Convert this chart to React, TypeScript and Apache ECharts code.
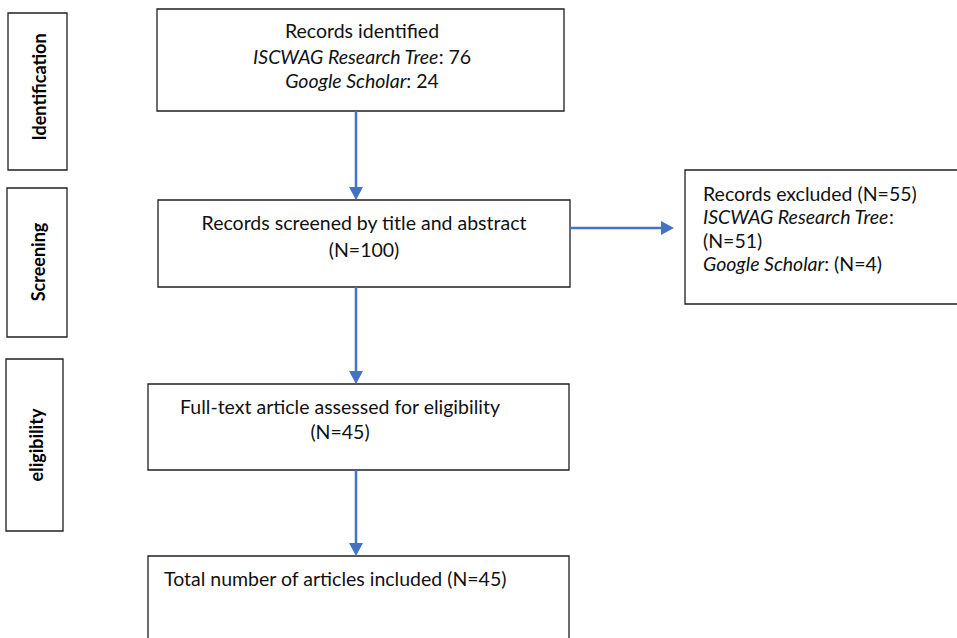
import React, { useEffect, useRef } from "react";
import * as echarts from "echarts";

// ---- data ----
const stageLabels = ["Identification", "Screening", "eligibility"];
const identifiedSources = ["ISCWAG Research Tree", "Google Scholar"];
const identifiedCounts = [76, 24];
const screenedCount = 100;
const excludedTotal = 55;
const excludedCounts = [51, 4];
const eligibleCount = 45;
const includedCount = 45;

const FONT = "Lato, 'Open Sans', sans-serif";
const BLUE = "#4472C4";
const EDGE = "#1f1f1f";

export default function App() {
  const ref = useRef<HTMLDivElement>(null);
  useEffect(() => {
    document.body.style.margin = "0";
    const chart = echarts.init(ref.current!, null, { renderer: "svg" });
    const fs = 19.5;
    const rich = {
      i: { fontStyle: "italic", fontFamily: FONT, fontSize: fs, fill: "#111" },
      n: { fontFamily: FONT, fontSize: fs, fill: "#111" },
    };
    const box = (x: number, y: number, w: number, h: number) => ({
      type: "rect",
      shape: { x, y, width: w, height: h },
      style: { fill: "#fff", stroke: EDGE, lineWidth: 1.3 },
    });
    // y is the text baseline
    const line = (x: number, y: number, text: string, align = "center") => ({
      type: "text",
      x,
      y: y - 0.33 * fs,
      style: {
        text,
        rich,
        fontFamily: FONT,
        fontSize: fs,
        fill: "#111",
        align,
        verticalAlign: "middle",
      },
    });
    const stage = (cx: number, cy: number, text: string) => ({
      type: "text",
      x: cx,
      y: cy,
      rotation: Math.PI / 2,
      style: {
        text,
        fontFamily: FONT,
        fontWeight: "bold",
        fontSize: 18,
        fill: "#000",
        align: "center",
        verticalAlign: "middle",
      },
    });
    const vArrow = (x: number, y1: number, y2: number) => [
      { type: "line", shape: { x1: x, y1, x2: x, y2: y2 - 12 }, style: { stroke: BLUE, lineWidth: 2.5 } },
      { type: "polygon", shape: { points: [[x - 7, y2 - 13], [x + 7, y2 - 13], [x, y2]] }, style: { fill: BLUE } },
    ];
    const hArrow = (y: number, x1: number, x2: number) => [
      { type: "line", shape: { x1, y1: y, x2: x2 - 12, y2: y }, style: { stroke: BLUE, lineWidth: 2.5 } },
      { type: "polygon", shape: { points: [[x2 - 13, y - 7], [x2 - 13, y + 7], [x2, y]] }, style: { fill: BLUE } },
    ];

    const elements: any[] = [
      // stage boxes
      box(8, 13, 59, 157),
      box(7, 188, 60, 149),
      box(6, 359, 57, 172),
      stage(39, 87, stageLabels[0]),
      stage(38, 262, stageLabels[1]),
      stage(36, 445, stageLabels[2]),
      // main boxes
      box(157, 9, 407, 102),
      box(158, 200, 412, 87),
      box(148, 384, 421, 86),
      box(148, 556, 421, 200),
      box(685, 170, 290, 134),
      // arrows
      ...vArrow(356, 111, 200),
      ...vArrow(356, 287, 384),
      ...vArrow(356, 470, 556),
      ...hArrow(228, 570, 674),
      // texts
      line(362, 37, "Records identified"),
      line(362, 63, `{i|${identifiedSources[0]}}{n|: ${identifiedCounts[0]}}`),
      line(362, 87, `{i|${identifiedSources[1]}}{n|: ${identifiedCounts[1]}}`),
      line(364, 229, "Records screened by title and abstract"),
      line(364, 256, `(N=${screenedCount})`),
      line(340, 413, "Full-text article assessed for eligibility"),
      line(340, 438, `(N=${eligibleCount})`),
      line(164, 585, `Total number of articles included (N=${includedCount})`, "left"),
      line(703, 200, `Records excluded (N=${excludedTotal})`, "left"),
      line(703, 223, `{i|${identifiedSources[0]}}{n|:}`, "left"),
      line(703, 247, `(N=${excludedCounts[0]})`, "left"),
      line(703, 270, `{i|${identifiedSources[1]}}{n|: (N=${excludedCounts[1]})}`, "left"),
    ];

    chart.setOption({
      animation: false,
      backgroundColor: "#fff",
      graphic: { elements },
    });
    return () => chart.dispose();
  }, []);
  return <div ref={ref} style={{ width: 957, height: 638 }} />;
}
